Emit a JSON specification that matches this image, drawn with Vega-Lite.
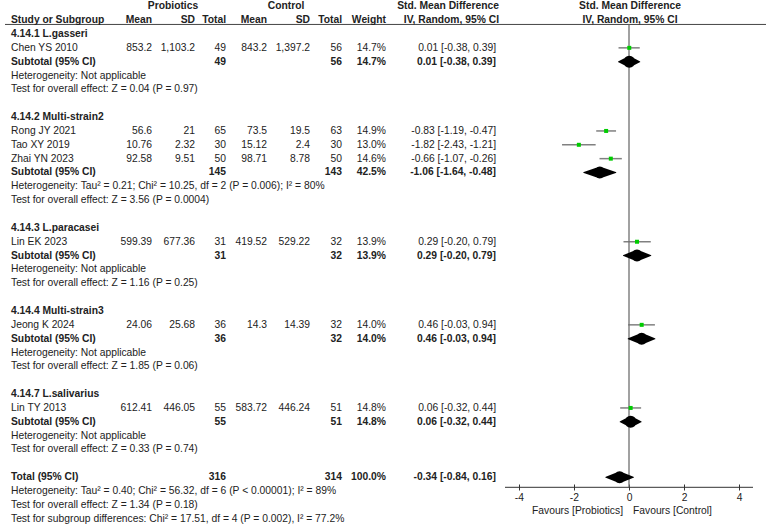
{
  "$schema": "https://vega.github.io/schema/vega-lite/v6.json",
  "width": 766,
  "height": 524,
  "autosize": "none",
  "padding": 0,
  "background": "white",
  "config": {
    "view": {"stroke": null},
    "text": {"font": "Liberation Sans", "fontSize": 10.3, "baseline": "middle", "color": "#222"}
  },
  "datasets": {
    "rows": [
      {"row": 1, "bold": true, "c0": "Study or Subgroup", "pm": "Mean", "psd": "SD", "pt": "Total", "cm": "Mean", "csd": "SD", "ct": "Total", "w": "Weight"},
      {"row": 2, "bold": true, "c0": "4.14.1 L.gasseri"},
      {"row": 3, "bold": false, "c0": "Chen YS 2010", "pm": "853.2", "psd": "1,103.2", "pt": "49", "cm": "843.2", "csd": "1,397.2", "ct": "56", "w": "14.7%", "ci": "0.01 [-0.38, 0.39]"},
      {"row": 4, "bold": true, "c0": "Subtotal (95% CI)", "pt": "49", "ct": "56", "w": "14.7%", "ci": "0.01 [-0.38, 0.39]"},
      {"row": 5, "bold": false, "c0": "Heterogeneity: Not applicable"},
      {"row": 6, "bold": false, "c0": "Test for overall effect: Z = 0.04 (P = 0.97)"},
      {"row": 8, "bold": true, "c0": "4.14.2 Multi-strain2"},
      {"row": 9, "bold": false, "c0": "Rong JY  2021", "pm": "56.6", "psd": "21", "pt": "65", "cm": "73.5", "csd": "19.5", "ct": "63", "w": "14.9%", "ci": "-0.83 [-1.19, -0.47]"},
      {"row": 10, "bold": false, "c0": "Tao XY 2019", "pm": "10.76", "psd": "2.32", "pt": "30", "cm": "15.12", "csd": "2.4", "ct": "30", "w": "13.0%", "ci": "-1.82 [-2.43, -1.21]"},
      {"row": 11, "bold": false, "c0": "Zhai YN 2023", "pm": "92.58", "psd": "9.51", "pt": "50", "cm": "98.71", "csd": "8.78", "ct": "50", "w": "14.6%", "ci": "-0.66 [-1.07, -0.26]"},
      {"row": 12, "bold": true, "c0": "Subtotal (95% CI)", "pt": "145", "ct": "143", "w": "42.5%", "ci": "-1.06 [-1.64, -0.48]"},
      {"row": 13, "bold": false, "c0": "Heterogeneity: Tau² = 0.21; Chi² = 10.25, df = 2 (P = 0.006); I² = 80%"},
      {"row": 14, "bold": false, "c0": "Test for overall effect: Z = 3.56 (P = 0.0004)"},
      {"row": 16, "bold": true, "c0": "4.14.3 L.paracasei"},
      {"row": 17, "bold": false, "c0": "Lin EK 2023", "pm": "599.39", "psd": "677.36", "pt": "31", "cm": "419.52", "csd": "529.22", "ct": "32", "w": "13.9%", "ci": "0.29 [-0.20, 0.79]"},
      {"row": 18, "bold": true, "c0": "Subtotal (95% CI)", "pt": "31", "ct": "32", "w": "13.9%", "ci": "0.29 [-0.20, 0.79]"},
      {"row": 19, "bold": false, "c0": "Heterogeneity: Not applicable"},
      {"row": 20, "bold": false, "c0": "Test for overall effect: Z = 1.16 (P = 0.25)"},
      {"row": 22, "bold": true, "c0": "4.14.4 Multi-strain3"},
      {"row": 23, "bold": false, "c0": "Jeong K 2024", "pm": "24.06", "psd": "25.68", "pt": "36", "cm": "14.3", "csd": "14.39", "ct": "32", "w": "14.0%", "ci": "0.46 [-0.03, 0.94]"},
      {"row": 24, "bold": true, "c0": "Subtotal (95% CI)", "pt": "36", "ct": "32", "w": "14.0%", "ci": "0.46 [-0.03, 0.94]"},
      {"row": 25, "bold": false, "c0": "Heterogeneity: Not applicable"},
      {"row": 26, "bold": false, "c0": "Test for overall effect: Z = 1.85 (P = 0.06)"},
      {"row": 28, "bold": true, "c0": "4.14.7 L.salivarius"},
      {"row": 29, "bold": false, "c0": "Lin TY 2013", "pm": "612.41", "psd": "446.05", "pt": "55", "cm": "583.72", "csd": "446.24", "ct": "51", "w": "14.8%", "ci": "0.06 [-0.32, 0.44]"},
      {"row": 30, "bold": true, "c0": "Subtotal (95% CI)", "pt": "55", "ct": "51", "w": "14.8%", "ci": "0.06 [-0.32, 0.44]"},
      {"row": 31, "bold": false, "c0": "Heterogeneity: Not applicable"},
      {"row": 32, "bold": false, "c0": "Test for overall effect: Z = 0.33 (P = 0.74)"},
      {"row": 34, "bold": true, "c0": "Total (95% CI)", "pt": "316", "ct": "314", "w": "100.0%", "ci": "-0.34 [-0.84, 0.16]"},
      {"row": 35, "bold": false, "c0": "Heterogeneity: Tau² = 0.40; Chi² = 56.32, df = 6 (P < 0.00001); I² = 89%"},
      {"row": 36, "bold": false, "c0": "Test for overall effect: Z = 1.34 (P = 0.18)"},
      {"row": 37, "bold": false, "c0": "Test for subgroup differences: Chi² = 17.51, df = 4 (P = 0.002), I² = 77.2%"}
    ],
    "studies": [
      {"row": 3, "est": 0.01, "lo": -0.38, "hi": 0.39},
      {"row": 9, "est": -0.83, "lo": -1.19, "hi": -0.47},
      {"row": 10, "est": -1.82, "lo": -2.43, "hi": -1.21},
      {"row": 11, "est": -0.66, "lo": -1.07, "hi": -0.26},
      {"row": 17, "est": 0.29, "lo": -0.2, "hi": 0.79},
      {"row": 23, "est": 0.46, "lo": -0.03, "hi": 0.94},
      {"row": 29, "est": 0.06, "lo": -0.32, "hi": 0.44}
    ],
    "pooled": [
      {"row": 4, "est": 0.01, "lo": -0.38, "hi": 0.39},
      {"row": 12, "est": -1.06, "lo": -1.64, "hi": -0.48},
      {"row": 18, "est": 0.29, "lo": -0.2, "hi": 0.79},
      {"row": 24, "est": 0.46, "lo": -0.03, "hi": 0.94},
      {"row": 30, "est": 0.06, "lo": -0.32, "hi": 0.44},
      {"row": 34, "est": -0.34, "lo": -0.84, "hi": 0.16}
    ]
  },
  "layer": [
    {
      "data": {"name": "studies"},
      "mark": {"type": "rule", "color": "#808080", "strokeWidth": 1.5},
      "encoding": {
        "x": {"field": "lo", "type": "quantitative",
              "scale": {"domain": [-4.5, 4.5], "range": [505, 753], "nice": false, "zero": false},
              "axis": {"orient": "bottom", "offset": -40, "values": [-4, -2, 0, 2, 4], "domain": false, "grid": false,
                       "ticks": true, "tickSize": 6, "tickColor": "#333", "tickWidth": 1,
                       "labelFont": "Liberation Sans", "labelFontSize": 10.3, "labelColor": "#222", "labelPadding": 2,
                       "labelExpr": "datum.value + ''", "title": null}},
        "x2": {"field": "hi"},
        "y": {"field": "row", "type": "quantitative", "scale": {"domain": [-0.455, 37.38], "reverse": true, "nice": false, "zero": false}, "axis": null}
      }
    },
    {
      "data": {"values": [{}]},
      "mark": {"type": "rule", "color": "#444", "strokeWidth": 1},
      "encoding": {"x": {"value": 5}, "x2": {"value": 766}, "y": {"datum": 1.31, "type": "quantitative", "axis": null}}
    },
    {
      "data": {"values": [{}]},
      "mark": {"type": "rule", "color": "#6f6f6f", "strokeWidth": 1.3},
      "encoding": {"x": {"datum": 0, "type": "quantitative"}, "y": {"datum": 1.31, "type": "quantitative", "axis": null}, "y2": {"datum": 34.73}}
    },
    {
      "data": {"values": [{}]},
      "mark": {"type": "rule", "color": "#333", "strokeWidth": 1},
      "encoding": {"x": {"datum": -4.5, "type": "quantitative"}, "x2": {"datum": 4.5}, "y": {"datum": 34.73, "type": "quantitative", "axis": null}}
    },
    {
      "data": {"name": "studies"},
      "mark": {"type": "point", "shape": "square", "filled": true, "size": 16, "color": "#00cc00", "opacity": 1},
      "encoding": {
        "x": {"field": "est", "type": "quantitative"},
        "y": {"field": "row", "type": "quantitative", "axis": null}
      }
    },
    {
      "data": {"name": "pooled"},
      "transform": [{"fold": ["lo", "est", "hi"], "as": ["part", "pos"]}],
      "mark": {"type": "trail", "color": "#000"},
      "encoding": {
        "x": {"field": "pos", "type": "quantitative"},
        "y": {"field": "row", "type": "quantitative", "axis": null},
        "detail": {"field": "row", "type": "nominal"},
        "order": {"field": "pos", "type": "quantitative"},
        "size": {"field": "part", "type": "ordinal", "scale": {"type": "ordinal", "domain": ["lo", "est", "hi"], "range": [0, 12, 0]}, "legend": null}
      }
    },
    {
      "data": {"name": "rows"},
      "transform": [{"filter": "isValid(datum.c0)"}],
      "mark": {"type": "text", "align": "left", "fontWeight": {"expr": "datum.bold ? 'bold' : 'normal'"}},
      "encoding": {"x": {"value": 11}, "y": {"field": "row", "type": "quantitative", "axis": null}, "text": {"field": "c0"}}
    },
    {
      "data": {"name": "rows"},
      "transform": [{"filter": "isValid(datum.pm)"}],
      "mark": {"type": "text", "align": "right", "fontWeight": {"expr": "datum.bold ? 'bold' : 'normal'"}},
      "encoding": {"x": {"value": 152}, "y": {"field": "row", "type": "quantitative", "axis": null}, "text": {"field": "pm"}}
    },
    {
      "data": {"name": "rows"},
      "transform": [{"filter": "isValid(datum.psd)"}],
      "mark": {"type": "text", "align": "right", "fontWeight": {"expr": "datum.bold ? 'bold' : 'normal'"}},
      "encoding": {"x": {"value": 195}, "y": {"field": "row", "type": "quantitative", "axis": null}, "text": {"field": "psd"}}
    },
    {
      "data": {"name": "rows"},
      "transform": [{"filter": "isValid(datum.pt)"}],
      "mark": {"type": "text", "align": "right", "fontWeight": {"expr": "datum.bold ? 'bold' : 'normal'"}},
      "encoding": {"x": {"value": 226}, "y": {"field": "row", "type": "quantitative", "axis": null}, "text": {"field": "pt"}}
    },
    {
      "data": {"name": "rows"},
      "transform": [{"filter": "isValid(datum.cm)"}],
      "mark": {"type": "text", "align": "right", "fontWeight": {"expr": "datum.bold ? 'bold' : 'normal'"}},
      "encoding": {"x": {"value": 267}, "y": {"field": "row", "type": "quantitative", "axis": null}, "text": {"field": "cm"}}
    },
    {
      "data": {"name": "rows"},
      "transform": [{"filter": "isValid(datum.csd)"}],
      "mark": {"type": "text", "align": "right", "fontWeight": {"expr": "datum.bold ? 'bold' : 'normal'"}},
      "encoding": {"x": {"value": 310}, "y": {"field": "row", "type": "quantitative", "axis": null}, "text": {"field": "csd"}}
    },
    {
      "data": {"name": "rows"},
      "transform": [{"filter": "isValid(datum.ct)"}],
      "mark": {"type": "text", "align": "right", "fontWeight": {"expr": "datum.bold ? 'bold' : 'normal'"}},
      "encoding": {"x": {"value": 342}, "y": {"field": "row", "type": "quantitative", "axis": null}, "text": {"field": "ct"}}
    },
    {
      "data": {"name": "rows"},
      "transform": [{"filter": "isValid(datum.w)"}],
      "mark": {"type": "text", "align": "right", "fontWeight": {"expr": "datum.bold ? 'bold' : 'normal'"}},
      "encoding": {"x": {"value": 386}, "y": {"field": "row", "type": "quantitative", "axis": null}, "text": {"field": "w"}}
    },
    {
      "data": {"name": "rows"},
      "transform": [{"filter": "isValid(datum.ci)"}],
      "mark": {"type": "text", "align": "right", "fontWeight": {"expr": "datum.bold ? 'bold' : 'normal'"}},
      "encoding": {"x": {"value": 496}, "y": {"field": "row", "type": "quantitative", "axis": null}, "text": {"field": "ci"}}
    },
    {
      "data": {"values": [{"row": 0, "txt": "Probiotics"}]},
      "mark": {"type": "text", "align": "center", "fontWeight": "bold"},
      "encoding": {"x": {"value": 173}, "y": {"field": "row", "type": "quantitative", "axis": null}, "text": {"field": "txt"}}
    },
    {
      "data": {"values": [{"row": 0, "txt": "Control"}]},
      "mark": {"type": "text", "align": "center", "fontWeight": "bold"},
      "encoding": {"x": {"value": 286}, "y": {"field": "row", "type": "quantitative", "axis": null}, "text": {"field": "txt"}}
    },
    {
      "data": {"values": [{"row": 0, "txt": "Std. Mean Difference"}, {"row": 1, "txt": "IV, Random, 95% CI"}]},
      "mark": {"type": "text", "align": "right", "fontWeight": "bold"},
      "encoding": {"x": {"value": 499}, "y": {"field": "row", "type": "quantitative", "axis": null}, "text": {"field": "txt"}}
    },
    {
      "data": {"values": [{"row": 0, "txt": "Std. Mean Difference"}, {"row": 1, "txt": "IV, Random, 95% CI"}]},
      "mark": {"type": "text", "align": "center", "fontWeight": "bold", "dx": 1},
      "encoding": {"x": {"datum": 0, "type": "quantitative"}, "y": {"field": "row", "type": "quantitative", "axis": null}, "text": {"field": "txt"}}
    },
    {
      "data": {"values": [{"row": 36.44, "txt": "Favours [Probiotics]"}]},
      "mark": {"type": "text", "align": "right", "dx": -6},
      "encoding": {"x": {"datum": 0, "type": "quantitative"}, "y": {"field": "row", "type": "quantitative", "axis": null}, "text": {"field": "txt"}}
    },
    {
      "data": {"values": [{"row": 36.44, "txt": "Favours [Control]"}]},
      "mark": {"type": "text", "align": "left", "dx": 4},
      "encoding": {"x": {"datum": 0, "type": "quantitative"}, "y": {"field": "row", "type": "quantitative", "axis": null}, "text": {"field": "txt"}}
    }
  ]
}
